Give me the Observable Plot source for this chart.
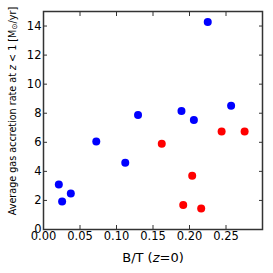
<!DOCTYPE html>
<html><head><meta charset="utf-8">
<script src="https://cdn.jsdelivr.net/npm/d3@7"></script>
<script src="https://cdn.jsdelivr.net/npm/@observablehq/plot@0.6"></script>
<style>body{margin:0;background:#fff}#c{position:relative;width:273px;height:273px}
#yl{position:absolute;left:13px;top:111px;transform:translate(-50%,-50%) rotate(-90deg);white-space:nowrap;font:9.6px "DejaVu Sans";color:#000}
#xl{position:absolute;left:153px;top:257px;transform:translate(-50%,-50%);white-space:nowrap;font:13px "DejaVu Sans";color:#000}
</style></head><body><div id="c"><div id="yl">Average gas accretion rate at <i>z</i> &lt; 1 [M<sub style="font-size:7.5px;vertical-align:-1px">⊙</sub>/yr]</div><div id="xl">B/T (<i>z</i>=0)</div></div>
<script>
const blueBT = [0.225, 0.257, 0.189, 0.206, 0.1295, 0.0723, 0.112, 0.021, 0.0255, 0.0374];
const blueRate = [14.27, 8.52, 8.16, 7.54, 7.88, 6.05, 4.6, 3.09, 1.92, 2.47];
const redBT = [0.162, 0.2037, 0.1914, 0.216, 0.244, 0.2755];
const redRate = [5.9, 3.7, 1.69, 1.45, 6.74, 6.74];
const xTicks = [0, 0.05, 0.10, 0.15, 0.20, 0.25];
const yTicks = [0, 2, 4, 6, 8, 10, 12, 14];

const blue = blueBT.map((b, i) => ({bt: b, rate: blueRate[i]}));
const red = redBT.map((b, i) => ({bt: b, rate: redRate[i]}));
const fmt = d3.format(".2f");
const chart = Plot.plot({
  width: 273, height: 273,
  marginLeft: 43, marginTop: 11, marginRight: 11, marginBottom: 44,
  style: {fontFamily: "DejaVu Sans", fontSize: "11px", color: "#000", background: "#fff"},
  x: {domain: [0, 0.3]},
  y: {domain: [0, 15]},
  marks: [
    Plot.axisX(xTicks, {anchor: "bottom", tickSize: -4, tickPadding: 6, tickFormat: fmt, stroke: "#333", label: null, fontSize: 11.5}),
    Plot.axisX(xTicks, {anchor: "top", tickSize: -4, tickFormat: () => "", stroke: "#333", label: null}),
    Plot.axisY(yTicks, {anchor: "left", tickSize: -4, tickPadding: 6, stroke: "#333", label: null, fontSize: 11.5}),
    Plot.axisY(yTicks, {anchor: "right", tickSize: -4, tickFormat: () => "", stroke: "#333", label: null}),
    Plot.frame({stroke: "#333", strokeWidth: 1.5}),
    Plot.dot(blue, {x: "bt", y: "rate", r: 4, fill: "#0000ff"}),
    Plot.dot(red, {x: "bt", y: "rate", r: 4, fill: "#ff0000"})
  ]
});
document.getElementById("c").appendChild(chart);
</script></body></html>
